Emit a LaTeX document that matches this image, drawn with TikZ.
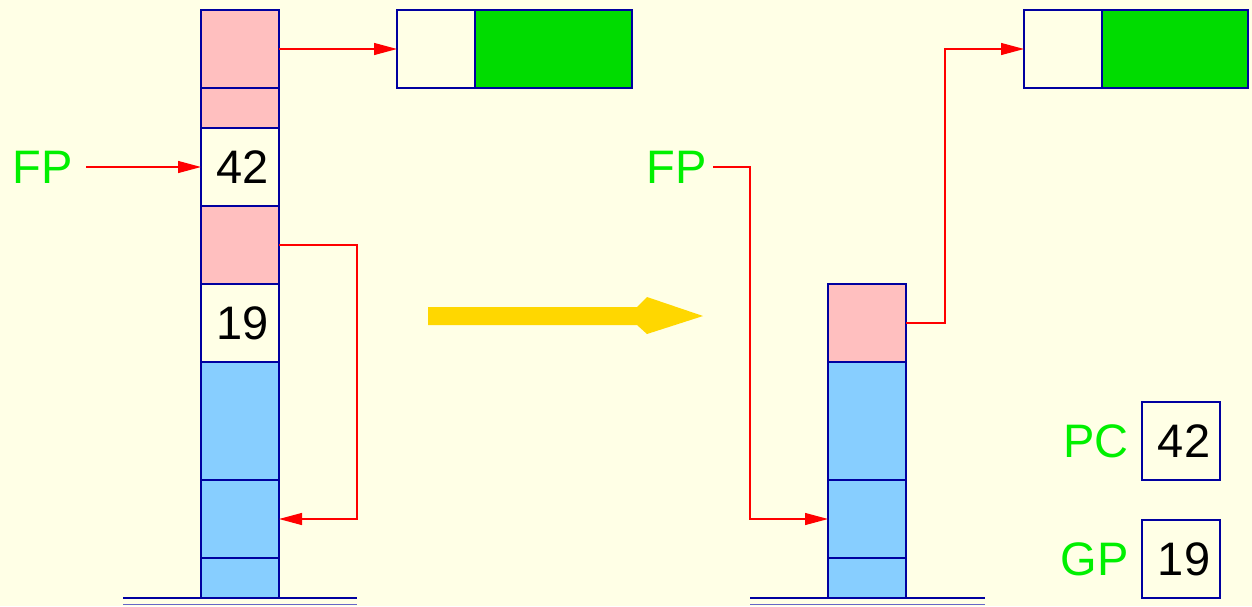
\documentclass[tikz,border=0pt]{standalone}
\usepackage{fontspec}
\setmainfont{Liberation Sans}
\usetikzlibrary{positioning,arrows.meta}

\definecolor{bgyellow}{RGB}{255,255,230}
\definecolor{cellpink}{RGB}{255,191,191}
\definecolor{cellblue}{RGB}{135,206,255}
\definecolor{cellline}{RGB}{0,0,160}
\definecolor{heapgreen}{RGB}{0,220,0}
\definecolor{labelgreen}{RGB}{0,240,0}
\definecolor{bigarrow}{RGB}{255,215,0}

\tikzset{
  cell/.style={draw=cellline, line width=0.75pt, minimum width=39pt,
    minimum height=39pt, inner sep=0pt, outer sep=0pt,
    font=\fontsize{23.5}{28}\selectfont},
  pinkcell/.style={cell, fill=cellpink},
  bluecell/.style={cell, fill=cellblue},
  regname/.style={text=labelgreen, inner sep=3pt, font=\fontsize{23.5}{28}\selectfont},
  ptr/.style={draw=red, line width=0.6pt, -{Triangle[length=11.5pt, width=6pt]}},
  ground/.style={draw=cellline, line width=0.75pt}
}

\begin{document}
\begin{tikzpicture}[x=0.5pt, y=-0.5pt]
    % Hintergrund
    \fill[bgyellow] (0,0) rectangle (1252,606);
    \useasboundingbox (0,0) rectangle (1252,606);

    % linker Stack
    \node[pinkcell, anchor=north] (l1) at (240,10) {};
    \node[pinkcell, minimum height=20pt, below=0pt of l1] (l2) {};
    \node[cell, below=0pt of l2] (l3) {\hspace{3pt}42};
    \node[pinkcell, below=0pt of l3] (l4) {};
    \node[cell, below=0pt of l4] (l5) {\hspace{3pt}19};
    \node[bluecell, minimum height=59pt, below=0pt of l5] (l6) {};
    \node[bluecell, below=0pt of l6] (l7) {};
    \node[bluecell, minimum height=20pt, below=0pt of l7] (l8) {};
    \draw[ground] (123,598) -- (357,598);
    \draw[ground, cellline!60] (123,604.5) -- (357,604.5);

    % linker Heap
    \node[cell, anchor=north west] (hl1) at (397,10) {};
    \node[cell, fill=heapgreen, minimum width=78.5pt, right=0pt of hl1] (hl2) {};

    % FP links
    \node[regname] (fpl) at (43,167) {FP};
    \draw[ptr] ([xshift=3.5pt]fpl.east) -- (l3.west);
    \draw[ptr] (l1.east) -- (hl1.west);
    \draw[ptr] (l4.east) -- ++(78,0) |- (l7.east);

    % Uebergang
    \fill[bigarrow] (428,307) -- (637,307) -- (647,297) -- (703,316)
        -- (647,334) -- (637,325) -- (428,325) -- cycle;

    % rechter Stack
    \node[pinkcell, anchor=north] (r1) at (867,284) {};
    \node[bluecell, minimum height=59pt, below=0pt of r1] (r2) {};
    \node[bluecell, below=0pt of r2] (r3) {};
    \node[bluecell, minimum height=20pt, below=0pt of r3] (r4) {};
    \draw[ground] (750,598) -- (985,598);
    \draw[ground, cellline!60] (750,604.5) -- (985,604.5);

    % rechter Heap
    \node[cell, anchor=north west] (hr1) at (1024,10) {};
    \node[cell, fill=heapgreen, minimum width=73pt, right=0pt of hr1] (hr2) {};

    % FP rechts
    \node[regname] (fpr) at (677,167) {FP};
    \draw[ptr] (fpr.east) -| ([xshift=-39pt]r3.west) -- (r3.west);
    \draw[ptr] (r1.east) -- ++(39,0) |- (hr1.west);

    % Register
    \node[cell, anchor=north west] (pc) at (1142,402) {\hspace{3pt}42};
    \node[regname, left=3.5pt of pc] (pcname) {PC};
    \node[cell, anchor=north west] (gp) at (1142,520) {\hspace{3pt}19};
    \node[regname, left=3.5pt of gp] (gpname) {GP};
\end{tikzpicture}
\end{document}
